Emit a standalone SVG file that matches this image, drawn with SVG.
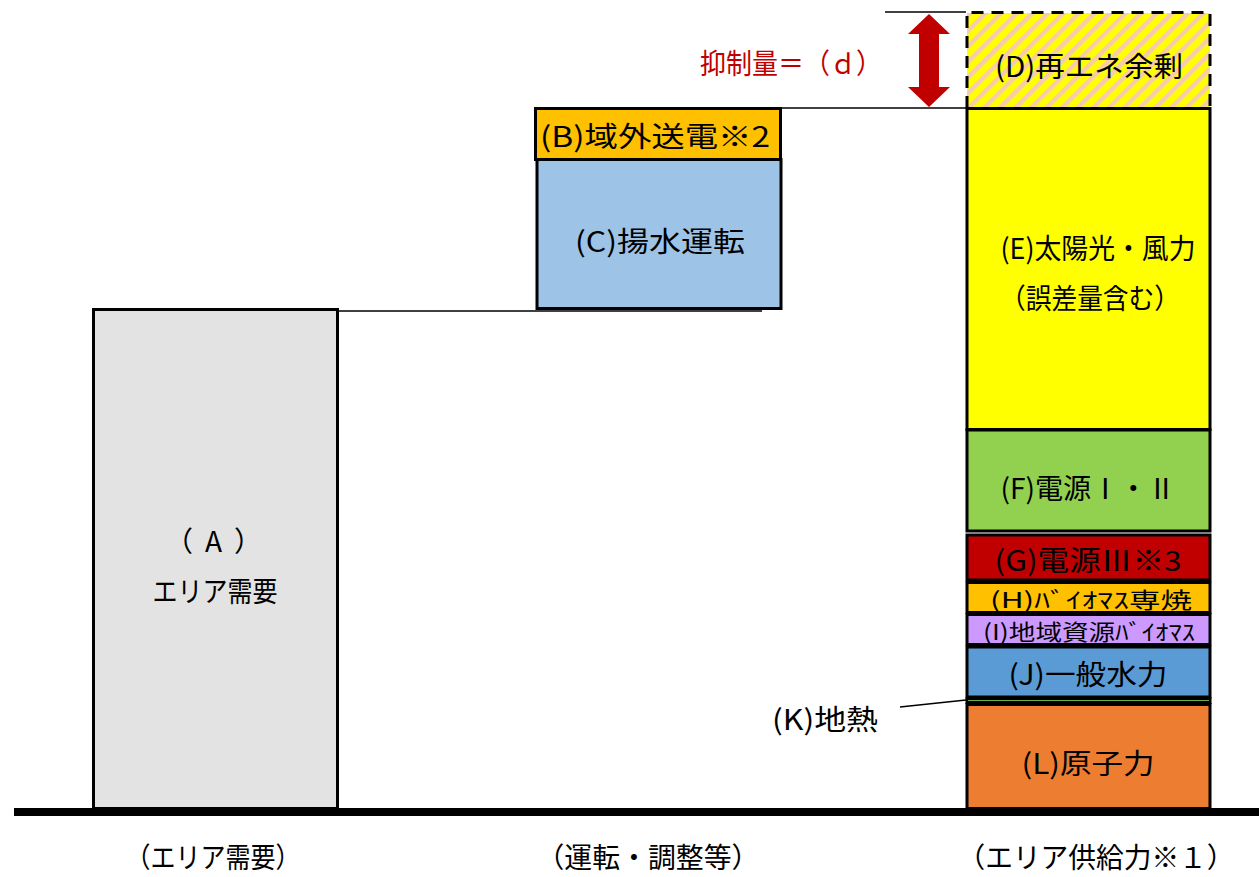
<svg xmlns="http://www.w3.org/2000/svg" width="1259" height="877" viewBox="0 0 1259 877">
<style>
.t{font-family:"Noto Sans CJK JP","Noto Sans",sans-serif;font-size:28px;fill:#000;text-anchor:middle;dominant-baseline:central}
.box{stroke:#000;stroke-width:3}
.ln{stroke:#000;stroke-width:1.5;fill:none}
</style>
<defs>
<pattern id="hatch" width="11" height="11" patternUnits="userSpaceOnUse" patternTransform="rotate(45)">
<rect width="11" height="11" fill="#FFFF00"/>
<rect width="4.5" height="11" fill="#F8CBAD"/>
</pattern>
</defs>
<rect width="1259" height="877" fill="#fff"/>
<g id="connectors">
<line class="ln" x1="339" y1="311" x2="762" y2="311"/>
<line class="ln" x1="781" y1="108" x2="966" y2="108"/>
<line class="ln" x1="885" y1="12" x2="966" y2="12"/>
<line class="ln" x1="900" y1="707" x2="966" y2="700"/>
<path d="M929 14 L950 34 L939 34 L939 87 L950 87 L929 107 L908 87 L919 87 L919 34 L908 34 Z" fill="#C00000"/>
</g>
<g id="A"><rect class="box" x="93.5" y="309.5" width="244" height="499" fill="#E3E3E3" stroke="#1a1a1a"/>
<text class="t" x="165" y="540" style="text-anchor:start">（<tspan dx="12">A</tspan><tspan dx="12">）</tspan></text>
<text class="t" x="215" y="590" textLength="125" lengthAdjust="spacingAndGlyphs">エリア需要</text></g>
<g id="B"><rect class="box" x="535.5" y="108.5" width="245" height="51" fill="#FFC000"/>
<text class="t" x="655" y="135" textLength="230" lengthAdjust="spacingAndGlyphs">(B)域外送電※2</text></g>
<g id="C"><rect class="box" x="537" y="159.5" width="244" height="149" fill="#9DC3E6"/>
<text class="t" x="660" y="240" textLength="170" lengthAdjust="spacingAndGlyphs">(C)揚水運転</text></g>
<g id="D"><rect x="967" y="13" width="243" height="95" fill="url(#hatch)"/>
<path d="M967 108 L967 12.5 L1210 12.5 L1210 108" fill="none" stroke="#000" stroke-width="3" stroke-dasharray="12 8"/>
<text class="t" x="1089" y="65" textLength="188" lengthAdjust="spacingAndGlyphs">(D)再エネ余剰</text></g>
<g id="E"><rect class="box" x="967" y="108.5" width="243" height="321" fill="#FFFF00"/>
<text class="t" x="1098" y="247" textLength="195" lengthAdjust="spacingAndGlyphs">(E)太陽光・風力</text>
<text class="t" x="1090" y="297" textLength="180" lengthAdjust="spacingAndGlyphs">（誤差量含む）</text></g>
<g id="F"><rect class="box" x="967" y="430" width="243" height="101" fill="#92D050"/>
<text class="t" x="1088" y="487" textLength="175" lengthAdjust="spacingAndGlyphs">(F)電源Ⅰ・Ⅱ</text></g>
<g id="G"><rect class="box" x="967" y="535" width="243" height="45" fill="#C00000"/>
<text class="t" x="1088" y="559" textLength="187" lengthAdjust="spacingAndGlyphs">(G)電源Ⅲ※3</text></g>
<g id="H"><rect class="box" x="967" y="582.5" width="243" height="30" fill="#FFC000"/>
<text class="t" x="1091" y="598" style="font-size:22px" textLength="202" lengthAdjust="spacingAndGlyphs">(H)ﾊﾞｲｵﾏｽ専焼</text></g>
<g id="I"><rect class="box" x="967" y="614.5" width="243" height="30" fill="#CC99FF"/>
<text class="t" x="1089" y="630" style="font-size:22px" textLength="212" lengthAdjust="spacingAndGlyphs">(I)地域資源ﾊﾞｲｵﾏｽ</text></g>
<g id="J"><rect class="box" x="967" y="647" width="243" height="50" fill="#5B9BD5"/>
<text class="t" x="1088" y="673" textLength="159" lengthAdjust="spacingAndGlyphs">(J)一般水力</text></g>
<g id="K"><rect class="box" x="967" y="698.5" width="243" height="4" fill="#70AD47"/>
<text class="t" x="825" y="718" textLength="106" lengthAdjust="spacingAndGlyphs">(K)地熱</text></g>
<g id="L"><rect class="box" x="967" y="704.5" width="243" height="104" fill="#ED7D31"/>
<text class="t" x="1088" y="762" textLength="133" lengthAdjust="spacingAndGlyphs">(L)原子力</text></g>
<g id="baseline"><rect x="14" y="808" width="1245" height="8" fill="#000"/></g>
<g id="labels">
<text class="t" x="791" y="62" style="fill:#C00000" textLength="182" lengthAdjust="spacingAndGlyphs">抑制量＝（ｄ）</text>
<text class="t" x="213" y="856" textLength="175" lengthAdjust="spacingAndGlyphs">（エリア需要）</text>
<text class="t" x="648" y="856" textLength="223" lengthAdjust="spacingAndGlyphs">（運転・調整等）</text>
<text class="t" x="1096" y="856" textLength="277" lengthAdjust="spacingAndGlyphs">（エリア供給力※１）</text>
</g>
</svg>
